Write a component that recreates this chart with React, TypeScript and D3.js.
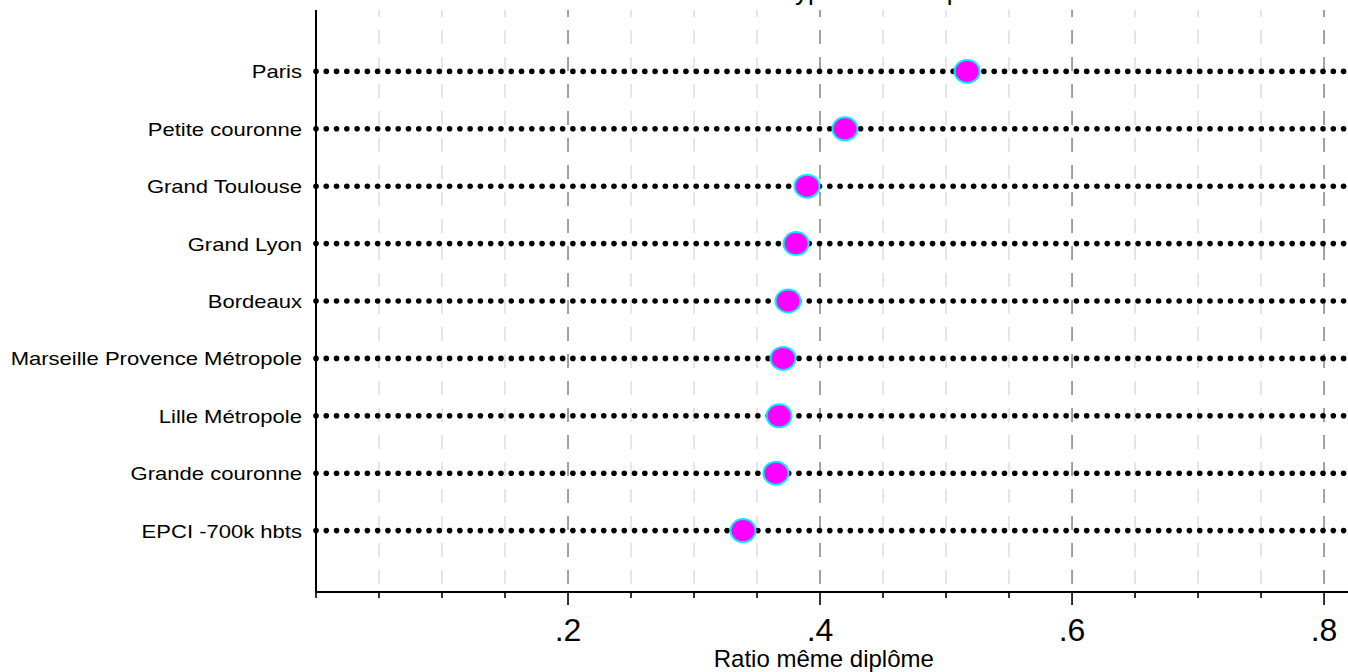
import React from "react";
import * as d3 from "d3";

const categories = [
  "Paris",
  "Petite couronne",
  "Grand Toulouse",
  "Grand Lyon",
  "Bordeaux",
  "Marseille Provence Métropole",
  "Lille Métropole",
  "Grande couronne",
  "EPCI -700k hbts",
];
const ratios = [0.5167, 0.4198, 0.3897, 0.381, 0.3746, 0.3706, 0.3675, 0.365, 0.3389];
const majorTicks = [0.2, 0.4, 0.6, 0.8];
const tickLabels = [".2", ".4", ".6", ".8"];
const titleText = "Par type de métropole";
const xTitle = "Ratio même diplôme";

const W = 1348;
const H = 672;
const FONT = "'Liberation Sans', Arial, Helvetica, sans-serif";

export default function App() {
  const top = 10;
  const bottom = 592;
  const left = 316;
  const x = d3.scaleLinear().domain([0, 0.819]).range([left, W]);
  const y = d3.scalePoint<string>().domain(categories).range([top, bottom]).padding(1.07);

  const minor = d3.range(1, 17).map((i) => i * 0.05).filter((v) => x(v) <= W);
  const isMajor = (v: number) => majorTicks.some((m) => Math.abs(m - v) < 1e-6);

  const dotStep = (x(0.8) - x(0)) / 98.1;
  const dotXs = d3.range(0, Math.floor((W - left) / dotStep) + 1).map((i) => left + i * dotStep);

  return (
    <svg
      width={W}
      height={H}
      style={{ position: "absolute", left: 0, top: 0, display: "block", background: "#fff" }}
      fontFamily={FONT}
    >
      <rect x={0} y={0} width={W} height={H} fill="#fff" />
      <text x={740} y={0} fontSize={26} fill="#000">
        {titleText}
      </text>
      {/* grid lines */}
      {minor.map((v) => (
        <line
          key={"g" + v}
          x1={x(v)}
          x2={x(v)}
          y1={top}
          y2={bottom}
          stroke={isMajor(v) ? "#8c8c8c" : "#d4d4d4"}
          strokeWidth={isMajor(v) ? 1.6 : 1.2}
          strokeDasharray="14,13"
          strokeDashoffset={7}
        />
      ))}
      {/* dotted rows */}
      {categories.map((c) => (
        <g key={"d" + c}>
          {dotXs.map((dx, i) => (
            <circle key={i} cx={dx} cy={y(c)!} r={2.8} fill="#000" />
          ))}
        </g>
      ))}
      {/* axes */}
      <line x1={left} x2={left} y1={top} y2={bottom + 1} stroke="#000" strokeWidth={2} />
      <line x1={left} x2={W} y1={bottom} y2={bottom} stroke="#000" strokeWidth={2} />
      {[0, ...minor].map((v) => (
        <line
          key={"t" + v}
          x1={x(v)}
          x2={x(v)}
          y1={bottom}
          y2={bottom + (isMajor(v) ? 13 : 6)}
          stroke="#000"
          strokeWidth={1.6}
        />
      ))}
      {majorTicks.map((v, i) => (
        <text key={"l" + v} x={x(v)} y={641} fontSize={32} textAnchor="middle" fill="#000">
          {tickLabels[i]}
        </text>
      ))}
      <text x={x(0.403)} y={667} fontSize={24} textAnchor="middle" fill="#000">
        {xTitle}
      </text>
      {/* category labels */}
      {categories.map((c) => (
        <text
          key={"c" + c}
          transform={`translate(302,${y(c)! + 7}) scale(1.16,1)`}
          fontSize={19}
          textAnchor="end"
          fill="#000"
        >
          {c}
        </text>
      ))}
      {/* markers */}
      {categories.map((c, i) => (
        <ellipse
          key={"m" + c}
          cx={x(ratios[i])}
          cy={y(c)!}
          rx={12.5}
          ry={11.5}
          fill="#ff00ff"
          stroke="#00f0ff"
          strokeWidth={2}
        />
      ))}
    </svg>
  );
}
